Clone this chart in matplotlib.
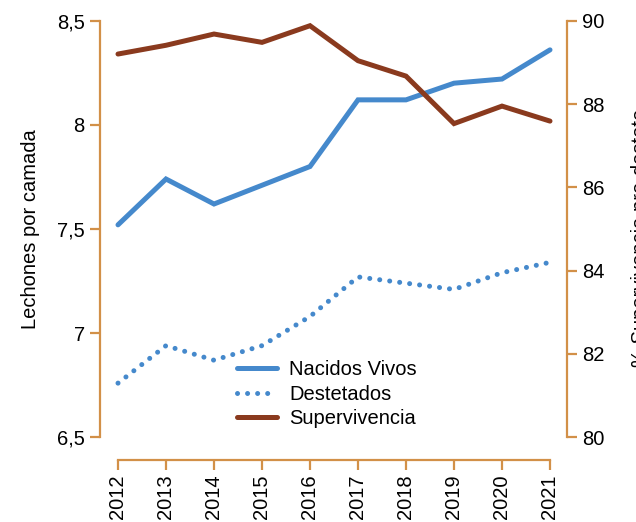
import matplotlib
matplotlib.use("Agg")
import matplotlib.pyplot as plt

plt.rcParams['font.family'] = ['Liberation Sans', 'DejaVu Sans']

years = [2012, 2013, 2014, 2015, 2016, 2017, 2018, 2019, 2020, 2021]
nacidos_vivos = [7.52, 7.74, 7.62, 7.71, 7.80, 8.12, 8.12, 8.20, 8.22, 8.36]
destetados = [6.76, 6.94, 6.87, 6.94, 7.08, 7.27, 7.24, 7.21, 7.29, 7.34]
supervivencia = [89.2, 89.41, 89.68, 89.48, 89.88, 89.04, 88.67, 87.53, 87.95, 87.59]
left_ticks = [6.5, 7, 7.5, 8, 8.5]
left_labels = ['6,5', '7', '7,5', '8', '8,5']
right_ticks = [80, 82, 84, 86, 88, 90]

BLUE = '#4589cc'
BROWN = '#8a3a1e'
SPINE = '#d29048'
FS = 14.5

fig = plt.figure(figsize=(6.36, 5.22), dpi=100)
ax = fig.add_axes([100/636, 1-437.3/522, 467/636, (437.3-20.7)/522])
ax2 = ax.twinx()

l1, = ax.plot(years, nacidos_vivos, color=BLUE, lw=3.6, solid_capstyle='round',
              solid_joinstyle='miter', label='Nacidos Vivos')
l2, = ax.plot(years, destetados, color=BLUE, lw=3.6, linestyle=(0, (0.01, 2.0)),
              dash_capstyle='round', label='Destetados')
l3, = ax2.plot(years, supervivencia, color=BROWN, lw=3.6, solid_capstyle='round',
               solid_joinstyle='miter', label='Supervivencia')

ax.set_xlim(2012 - 18/48, 2021 + 17/48)
ax.set_ylim(6.5, 8.5)
ax2.set_ylim(80, 90)

ax.set_yticks(left_ticks)
ax.set_yticklabels(left_labels)
ax2.set_yticks(right_ticks)
ax.set_xticks(years)
ax.set_xticklabels([str(y) for y in years])

for a in (ax, ax2):
    for s in a.spines.values():
        s.set_visible(False)
ax.spines['left'].set_visible(True)
ax.spines['left'].set_color(SPINE)
ax.spines['left'].set_linewidth(1.6)
ax.spines['bottom'].set_visible(True)
ax.spines['bottom'].set_color(SPINE)
ax.spines['bottom'].set_linewidth(1.6)
ax.spines['bottom'].set_position(('outward', 16))
ax.spines['bottom'].set_bounds(2012, 2021)
ax2.spines['right'].set_visible(True)
ax2.spines['right'].set_color(SPINE)
ax2.spines['right'].set_linewidth(1.6)

ax.tick_params(axis='y', direction='out', length=7, width=1.6, color=SPINE,
               labelsize=FS, pad=4, labelcolor='black')
ax.tick_params(axis='x', direction='out', length=7, width=1.6, color=SPINE,
               labelsize=FS, pad=4, labelcolor='black', labelrotation=90)
ax2.tick_params(axis='y', direction='out', length=7, width=1.6, color=SPINE,
                labelsize=FS, pad=4, labelcolor='black')

ax.set_ylabel('Lechones por camada', fontsize=FS, labelpad=12)
fig.text(631/636, 1-367/522, '% Supervivencia pre-destete', rotation=90,
         fontsize=FS, ha='left', va='bottom')

leg = fig.legend(handles=[l1, l2, l3], loc='upper left',
                 bbox_to_anchor=(237/636, 1-360/522), frameon=False,
                 fontsize=FS, handlelength=2.0, handletextpad=0.6,
                 labelspacing=0.28, borderaxespad=0, borderpad=0)

fig.savefig('out.png', dpi=100)
